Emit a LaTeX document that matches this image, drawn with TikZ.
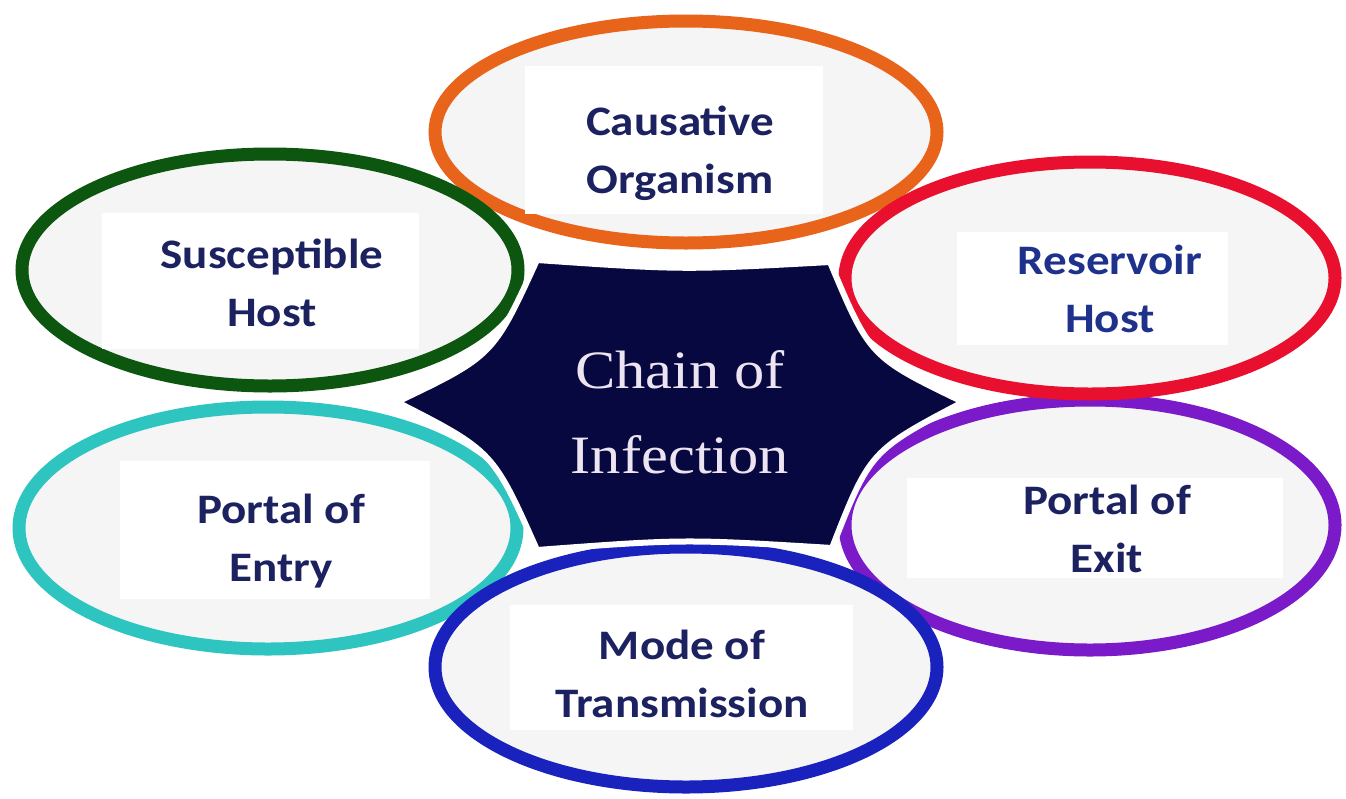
\documentclass[tikz,border=0pt]{standalone}
\usepackage{fontspec}
\newfontfamily\lblfont[FakeStretch=1.12]{Carlito}
\newfontfamily\titlefont[FakeStretch=1.12]{Liberation Serif}
\usetikzlibrary{shapes.geometric}
\definecolor{navy}{RGB}{8, 8, 64}
\definecolor{labelc}{RGB}{28, 33, 96}
\definecolor{labelb}{RGB}{30, 50, 140}
\definecolor{chainc}{RGB}{236, 228, 240}
\definecolor{orangec}{RGB}{232, 100, 26}
\definecolor{greenc}{RGB}{12, 86, 16}
\definecolor{redc}{RGB}{232, 16, 46}
\definecolor{cyanc}{RGB}{46, 196, 192}
\definecolor{purplec}{RGB}{122, 26, 200}
\definecolor{bluec}{RGB}{26, 34, 190}
\definecolor{ringfill}{RGB}{245, 245, 245}

\begin{document}
\begin{tikzpicture}[
        x=1pt, y=-1pt,
        ring/.style={
            ellipse,
            draw=#1,
            line width=13pt,
            fill=ringfill,
            inner sep=0pt
        },
        txtbox/.style={
            fill=white,
            inner sep=0pt
        },
        lbl/.style={
            text=labelc,
            align=center,
            inner sep=0pt,
            font=\lblfont\bfseries\fontsize{42}{58}\selectfont
        },
        chaintxt/.style={
            text=chainc,
            align=center,
            font=\titlefont\fontsize{54}{85}\selectfont
        }
    ]
    \useasboundingbox (0,0) rectangle (1346,798);

    % the six rings
    \node[ring=orangec, minimum width=502pt, minimum height=222pt] (causal) at (686,132) {};
    \node[ring=purplec, minimum width=490pt, minimum height=250pt] (exit) at (1090,525) {};
    \node[ring=cyanc, minimum width=498pt, minimum height=242pt] (entry) at (268,528) {};
    \node[ring=greenc, minimum width=496pt, minimum height=232pt] (suscep) at (270,270) {};
    \node[ring=redc, minimum width=490pt, minimum height=232pt] (reserv) at (1090,278) {};
    \node[ring=bluec, minimum width=502pt, minimum height=240pt] (mode) at (686,667) {};

    % white boxes behind the labels
    \node[txtbox, minimum width=298pt, minimum height=148pt] (causal box) at (674,140) {};
    \node[txtbox, minimum width=317pt, minimum height=136pt] (suscep box) at (260,281) {};
    \node[txtbox, minimum width=271pt, minimum height=113pt] (reserv box) at (1092,288) {};
    \node[txtbox, minimum width=376pt, minimum height=100pt] (exit box) at (1095,528) {};
    \node[txtbox, minimum width=310pt, minimum height=138pt] (entry box) at (275,530) {};
    \node[txtbox, minimum width=343pt, minimum height=125pt] (mode box) at (681,667) {};

    % labels
    \node[lbl] (causal txt) at (680,153) {Causative\\Organism};
    \node[lbl] (suscep txt) at (272,283) {Susceptible\\Host};
    \node[lbl, text=labelb] (reserv txt) at (1110,289) {Reservoir\\Host};
    \node[lbl] (exit txt) at (1107,529) {Portal of\\Exit};
    \node[lbl] (entry txt) at (281,541) {Portal of\\Entry};
    \node[lbl] (mode txt) at (682,674) {Mode of\\Transmission};

    % centre star
    \coordinate (tipL) at (397,402);
    \coordinate (tipTL) at (537,260);
    \coordinate (tipTR) at (830,262);
    \coordinate (tipR) at (963,402);
    \coordinate (tipBR) at (832,548);
    \coordinate (tipBL) at (537,550);
    \filldraw[fill=navy, draw=white, line width=6pt, line join=miter]
        (tipL) .. controls (493,356) .. (tipTL)
        .. controls (683,270) .. (tipTR)
        .. controls (870,357) .. (tipR)
        .. controls (870,451) .. (tipBR)
        .. controls (684,539) .. (tipBL)
        .. controls (493,451) .. cycle;
    \node[chaintxt] (chain) at (680,412) {Chain of\\Infection};
\end{tikzpicture}
\end{document}
